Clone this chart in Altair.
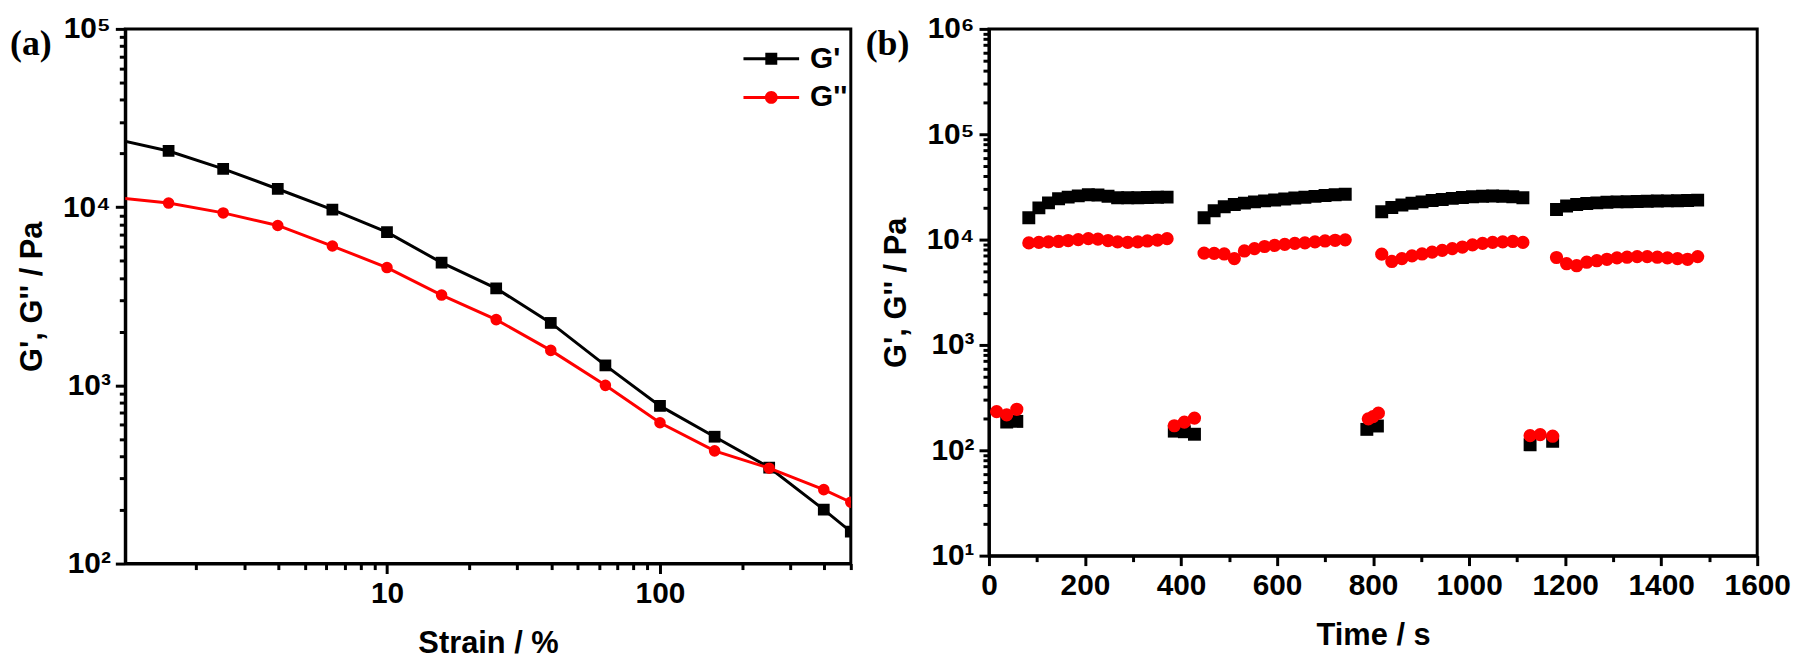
import altair as alt
import pandas as pd

FONT = "Liberation Sans"
SERIES = ["G'", "G''"]
COLORS = ["black", "red"]
PANEL_LABELS = ["(a)", "(b)"]

# ---------------- Panel (a): strain sweep ----------------
strain = [1.0, 1.585, 2.512, 3.981, 6.31, 10.0, 15.85, 25.12, 39.81, 63.1, 100.0, 158.5, 251.2, 398.1, 500.0]
gp_a = [24200, 20650, 16400, 12640, 9690, 7240, 4880, 3500, 2240, 1294, 767, 515, 346, 201, 151]
gpp_a = [11330, 10540, 9280, 7890, 6050, 4580, 3210, 2338, 1571, 1000, 617, 429, 343, 260, 221]

a_x_major = [10, 100]
a_x_minor = [2, 3, 4, 5, 6, 7, 8, 9, 20, 30, 40, 50, 60, 70, 80, 90, 200, 300, 400, 500]
a_y_major = [100, 1000, 10000, 100000]
a_y_minor = [200, 300, 400, 500, 600, 700, 800, 900,
             2000, 3000, 4000, 5000, 6000, 7000, 8000, 9000,
             20000, 30000, 40000, 50000, 60000, 70000, 80000, 90000]

# ---------------- Panel (b): time sweep ----------------
t_seg1 = [83, 104, 124, 145, 165, 186, 207, 227, 248, 268, 289, 310, 330, 351, 371]
t_seg2 = [448, 469, 490, 511, 532, 553, 574, 595, 616, 637, 658, 679, 700, 721, 742]
t_seg3 = [818, 839, 860, 881, 902, 923, 944, 965, 986, 1007, 1028, 1049, 1070, 1091, 1112]
t_seg4 = [1182, 1203, 1224, 1245, 1266, 1287, 1308, 1329, 1350, 1371, 1392, 1413, 1434, 1455, 1476]

gp_seg1 = [16100, 20000, 22300, 24400, 25300, 26000, 26600, 26500, 25800, 25000, 25000, 25000, 25100, 25200, 25300]
gp_seg2 = [16100, 18800, 20500, 21500, 22200, 22800, 23300, 23800, 24300, 24800, 25200, 25700, 26200, 26600, 26900]
gp_seg3 = [18400, 20200, 21300, 22100, 22800, 23500, 24000, 24600, 25100, 25500, 25800, 25900, 25800, 25500, 25000]
gp_seg4 = [19300, 20800, 21500, 22000, 22300, 22600, 22800, 22900, 23000, 23100, 23200, 23300, 23400, 23500, 23700]

gpp_seg1 = [9300, 9400, 9500, 9600, 9800, 10000, 10200, 10100, 9800, 9500, 9400, 9500, 9700, 9900, 10200]
gpp_seg2 = [7450, 7400, 7300, 6600, 7800, 8200, 8600, 8800, 9000, 9200, 9300, 9500, 9700, 9850, 9950]
gpp_seg3 = [7270, 6200, 6600, 7000, 7300, 7600, 7900, 8200, 8500, 8900, 9200, 9400, 9500, 9600, 9400]
gpp_seg4 = [6760, 5900, 5650, 6100, 6300, 6500, 6700, 6800, 6900, 6900, 6800, 6700, 6600, 6500, 6900]

t_gp_low = [37, 58, 386, 407, 428, 787, 809, 1127, 1174]
gp_low = [185, 188, 152, 150, 142, 158, 170, 113, 122]
t_gpp_low = [16, 37, 58, 386, 407, 428, 790, 800, 811, 1127, 1148, 1174]
gpp_low = [233, 217, 245, 171, 185, 202, 199, 209, 225, 138, 141, 136]

b_x_major = [0, 200, 400, 600, 800, 1000, 1200, 1400, 1600]
b_x_minor = [100, 300, 500, 700, 900, 1100, 1300, 1500]
b_y_major = [10, 100, 1000, 10000, 100000, 1000000]
b_y_minor = [20, 30, 40, 50, 60, 70, 80, 90,
             200, 300, 400, 500, 600, 700, 800, 900,
             2000, 3000, 4000, 5000, 6000, 7000, 8000, 9000,
             20000, 30000, 40000, 50000, 60000, 70000, 80000, 90000,
             200000, 300000, 400000, 500000, 600000, 700000, 800000, 900000]

# ---------------- tables ----------------
df_a = pd.DataFrame({
    "x": strain + strain,
    "y": gp_a + gpp_a,
    "series": [SERIES[0]] * len(strain) + [SERIES[1]] * len(strain),
})

tb_gp = t_seg1 + t_seg2 + t_seg3 + t_seg4 + t_gp_low
vb_gp = gp_seg1 + gp_seg2 + gp_seg3 + gp_seg4 + gp_low
tb_gpp = t_seg1 + t_seg2 + t_seg3 + t_seg4 + t_gpp_low
vb_gpp = gpp_seg1 + gpp_seg2 + gpp_seg3 + gpp_seg4 + gpp_low
df_b = pd.DataFrame({
    "x": tb_gp + tb_gpp,
    "y": vb_gp + vb_gpp,
    "series": [SERIES[0]] * len(tb_gp) + [SERIES[1]] * len(tb_gpp),
})

# legend symbols: line + marker (custom paths, unit = half symbol width)
SQ_PATH = "M-2,-0.11H2V0.11H-2Z M-0.43,-0.43H0.43V0.43H-0.43Z"
CI_PATH = ("M-2,-0.11H2V0.11H-2Z M0.46,0C0.46,0.254 0.254,0.46 0,0.46"
           "C-0.254,0.46 -0.46,0.254 -0.46,0C-0.46,-0.254 -0.254,-0.46 0,-0.46"
           "C0.254,-0.46 0.46,-0.254 0.46,0Z")

SUP_EXPR = ("'10' + (datum.value == 10 ? '¹' : datum.value == 100 ? '²' : "
            "datum.value == 1000 ? '³' : datum.value == 10000 ? '⁴' : "
            "datum.value == 100000 ? '⁵' : '⁶')")

LABEL_SIZE = 30
TITLE_SIZE = 31


def major_axis(orient, values, title, title_pad, label_expr=None, fmt=None):
    kw = dict(orient=orient, values=values, title=title, tickSize=10, tickWidth=3,
              tickColor="black", domain=True, domainColor="black", domainWidth=3,
              grid=False, labelFont=FONT,
              labelFontSize=LABEL_SIZE, labelFontWeight="bold", labelColor="black",
              labelPadding=5, labelFlush=False, labelOverlap=False,
              titleFont=FONT, titleFontSize=TITLE_SIZE, titleFontWeight="bold",
              titleColor="black", titlePadding=title_pad)
    if label_expr:
        kw["labelExpr"] = label_expr
    if fmt:
        kw["format"] = fmt
    return alt.Axis(**kw)


def minor_axis(orient, values):
    return alt.Axis(orient=orient, values=values, title=None, labels=False, tickSize=6,
                    tickWidth=3, tickColor="black", domain=False, grid=False)


def legend(lx, ly):
    return alt.Legend(orient="none", legendX=lx, legendY=ly, title=None, symbolSize=784,
                      labelFont=FONT, labelFontSize=LABEL_SIZE, labelFontWeight="bold",
                      labelColor="black", labelOffset=24, rowPadding=9, padding=0,
                      symbolStrokeWidth=0, symbolOpacity=1)


def panel(df, xscale, yscale, xmaj, xmin, ymaj, ymin, xtitle, ytitle, xtpad, ytpad,
          with_lines, sq_size, ci_size, label, label_dx, lx, ly, w, h):
    base = alt.Chart(df)
    f1 = alt.datum.series == SERIES[0]
    f2 = alt.datum.series == SERIES[1]
    xe_major = alt.X("x:Q", scale=xscale, axis=major_axis("bottom", xmaj, xtitle, xtpad, fmt="d"))
    ye_major = alt.Y("y:Q", scale=yscale, axis=major_axis("left", ymaj, ytitle, ytpad, SUP_EXPR))
    xe = alt.X("x:Q", scale=xscale, axis=None)
    ye = alt.Y("y:Q", scale=yscale, axis=None)
    layers = []
    if with_lines:
        layers.append(base.transform_filter(f1).mark_line(color=COLORS[0], strokeWidth=3, clip=True)
                      .encode(x=xe_major, y=ye_major))
        layers.append(base.transform_filter(f1).mark_square(color=COLORS[0], size=sq_size, opacity=1, clip=True)
                      .encode(x=xe, y=ye))
        layers.append(base.transform_filter(f2).mark_line(color=COLORS[1], strokeWidth=3, clip=True)
                      .encode(x=xe, y=ye))
        layers.append(base.transform_filter(f2).mark_circle(color=COLORS[1], size=ci_size, opacity=1, clip=True)
                      .encode(x=xe, y=ye))
    else:
        layers.append(base.transform_filter(f1).mark_square(color=COLORS[0], size=sq_size, opacity=1, clip=True)
                      .encode(x=xe_major, y=ye_major))
        layers.append(base.transform_filter(f2).mark_circle(color=COLORS[1], size=ci_size, opacity=1, clip=True)
                      .encode(x=xe, y=ye))
    leg = legend(lx, ly)
    layers.append(base.transform_filter("false").mark_point(filled=True, opacity=1)
                  .encode(x=alt.X("x:Q", scale=xscale, axis=minor_axis("bottom", xmin)),
                          y=alt.Y("y:Q", scale=yscale, axis=minor_axis("left", ymin)),
                          color=alt.Color("series:N", scale=alt.Scale(domain=SERIES, range=COLORS), legend=leg),
                          shape=alt.Shape("series:N", scale=alt.Scale(domain=SERIES, range=[SQ_PATH, CI_PATH]), legend=leg)))
    lab_df = pd.DataFrame({"label": [label]})
    layers.append(alt.Chart(lab_df).mark_text(font="Liberation Serif", fontSize=36, fontWeight="bold",
                                              align="left", baseline="alphabetic", color="black")
                  .encode(text="label:N", x=alt.value(label_dx), y=alt.value(26)))
    return alt.layer(*layers).resolve_axis(x="independent", y="independent").properties(width=w, height=h)


pa = panel(df_a,
           alt.Scale(type="log", domain=[1.1, 500], nice=False),
           alt.Scale(type="log", domain=[100, 100000], nice=False),
           a_x_major, a_x_minor, a_y_major, a_y_minor,
           "Strain / %", "G', G'' / Pa", 20, 14,
           True, 140, 135, PANEL_LABELS[0], -116, 635, 15, 730, 538)

pb = panel(df_b,
           alt.Scale(type="linear", domain=[0, 1600], nice=False, zero=False),
           alt.Scale(type="log", domain=[10, 1000000], nice=False),
           b_x_major, b_x_minor, b_y_major, b_y_minor,
           "Time / s", "G', G'' / Pa", 20, 14,
           False, 169, 177, PANEL_LABELS[1], -124, 674, 16, 773, 530)

chart = (alt.hconcat(pa, pb, spacing=10)
         .properties(padding={"left": 0, "top": 2, "right": 0, "bottom": 0}, background="white")
         .configure_view(stroke="black", strokeWidth=3))

chart.save("out.html", embed_options={"renderer": "svg", "actions": False})
